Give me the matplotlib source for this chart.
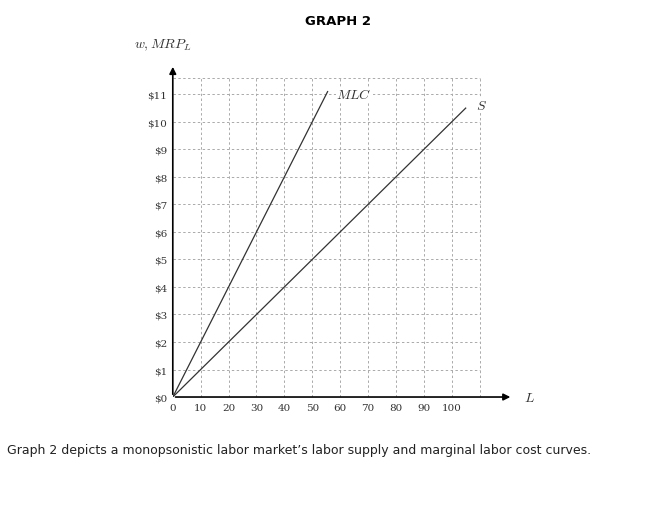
import numpy as np
import matplotlib.pyplot as plt

plt.rcParams['mathtext.fontset'] = 'cm'

labor = np.array([0, 10, 20, 30, 40, 50, 60, 70, 80, 90, 100])
wages = np.arange(0, 12)
wage_labels = ['$%d' % w for w in wages]
supply_L = np.array([0, 105])
supply_w = 0.1 * supply_L
mlc_L = np.array([0, 55.5])
mlc_w = 0.2 * mlc_L

fig = plt.figure(figsize=(6.57, 5.06), dpi=100)
ax = fig.add_axes([0.263, 0.2134, 0.518, 0.658])
ax.set_xlim(0, 122)
ax.set_ylim(0, 12.1)

# dashed grid
grid_kw = dict(colors='#aaaaaa', linestyles=(0, (2.5, 2.5)), linewidth=0.7)
ax.vlines(list(labor[1:]) + [110], 0, 11.6, **grid_kw)
ax.hlines(list(wages[1:]) + [11.6], 0, 110, **grid_kw)

ax.plot(supply_L, supply_w, color='#333333', lw=0.9)
ax.plot(mlc_L, mlc_w, color='#333333', lw=0.9)
ax.text(110.5, 10.6, '$S$', fontsize=10, ha='center', va='center', color='#333333',
        bbox=dict(fc='white', ec='none', pad=0.5))
ax.text(65, 11.0, '$MLC$', fontsize=10, ha='center', va='center', color='#333333',
        bbox=dict(fc='white', ec='none', pad=0.5))

for s in ax.spines.values():
    s.set_visible(False)
ax.annotate('', xy=(0, 12.1), xytext=(0, 0), xycoords='data',
            arrowprops=dict(arrowstyle='-|>', color='black', lw=1.2), annotation_clip=False)
ax.annotate('', xy=(122, 0), xytext=(0, 0), xycoords='data',
            arrowprops=dict(arrowstyle='-|>', color='black', lw=1.2), annotation_clip=False)

ax.set_xticks(labor)
ax.set_xticklabels([str(v) for v in labor], family='DejaVu Serif', fontsize=7.5, color='#333333')
ax.set_yticks(wages)
ax.set_yticklabels(wage_labels, family='DejaVu Serif', fontsize=7.5, color='#333333')
ax.tick_params(length=0, pad=4)

ax.text(126, 0, '$L$', fontsize=10, va='center', color='#333333')
ax.text(-14, 12.8, '$w, MRP_L$', fontsize=10, va='center', color='#333333')

fig.text(0.515, 0.957, 'GRAPH 2', ha='center', va='center', fontsize=9.5, fontweight='bold')
fig.text(0.011, 0.11, "Graph 2 depicts a monopsonistic labor market\u2019s labor supply and marginal labor cost curves.",
         fontsize=9, va='center', color='#222222')

fig.savefig('out.png', dpi=100)
